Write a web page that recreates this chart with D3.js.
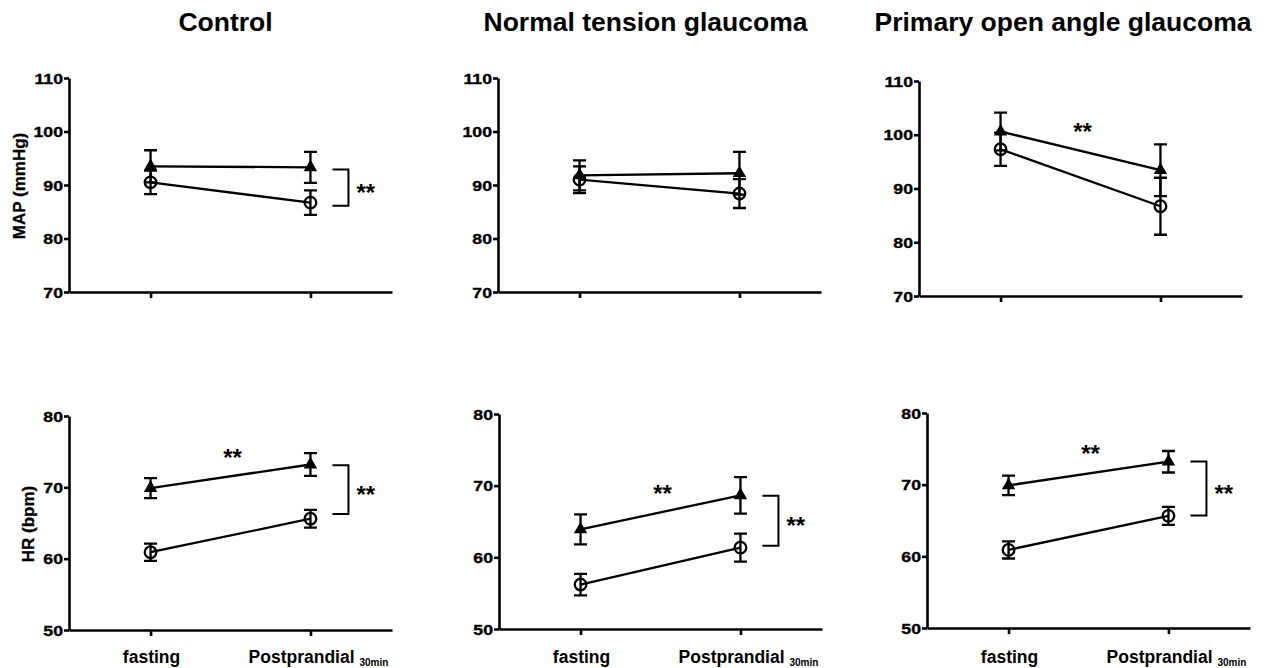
<!DOCTYPE html>
<html>
<head>
<meta charset="utf-8">
<script src="https://cdn.jsdelivr.net/npm/d3@7"></script>
<style>
  body { margin: 0; background: #fff; }
  text { font-family: "Liberation Sans", Arial, sans-serif; font-weight: bold; fill: #000; }
</style>
</head>
<body>
<script>
// values (mean and SEM), one row per group, [fasting, postprandial]
var groups = ["Control", "Normal tension glaucoma", "Primary open angle glaucoma"];
var times = ["fasting", "Postprandial"];
var mapTicks = [70, 80, 90, 100, 110];
var hrTicks = [50, 60, 70, 80];

// filled triangles
var mapTriMean = [[93.5, 93.3], [91.8, 92.2], [100.6, 93.4]];
var mapTriSem  = [[3.0, 2.9], [2.8, 4.0], [3.5, 4.8]];
var hrTriMean  = [[69.9, 73.2], [63.9, 68.65], [69.9, 73.2]];
var hrTriSem   = [[1.4, 1.6], [2.1, 2.55], [1.35, 1.5]];

// open circles
var mapCirMean = [[90.5, 86.7], [91.0, 88.4], [97.3, 86.7]];
var mapCirSem  = [[2.2, 2.3], [2.5, 2.7], [3.1, 5.3]];
var hrCirMean  = [[60.9, 65.6], [56.2, 61.35], [60.9, 65.65]];
var hrCirSem   = [[1.2, 1.25], [1.5, 1.95], [1.2, 1.25]];

// ** between time points (value where the stars sit), null = none
var mapStarsTime = [null, null, 101.5];
var hrStarsTime  = [74.9, 69.6, 75.1];
// ** bracket between groups at postprandial [top, bottom], null = none
var mapBracket = [[92.9, 86.1], null, null];
var hrBracket  = [[73.1, 66.25], [68.6, 61.6], [73.25, 65.7]];

var rows = [
  {label: "MAP (mmHg)", labelX: 25, labelY: 186, domain: [70, 110], ticks: mapTicks,
   triMean: mapTriMean, triSem: mapTriSem, cirMean: mapCirMean, cirSem: mapCirSem,
   stars: mapStarsTime, bracket: mapBracket,
   left: [69, 498, 919], top: [78, 78, 81], bottom: [292, 292, 296], catLabels: false},
  {label: "HR (bpm)", labelX: 33.5, labelY: 524, domain: [50, 80], ticks: hrTicks,
   triMean: hrTriMean, triSem: hrTriSem, cirMean: hrCirMean, cirSem: hrCirSem,
   stars: hrStarsTime, bracket: hrBracket,
   left: [69, 499, 927], top: [416, 414, 413], bottom: [630, 629, 628], catLabels: true}
];
var titleX = [225.5, 645.5, 1063];
var axisW = 323;

var svg = d3.select("body")
  .append("svg")
    .attr("width", 1281)
    .attr("height", 668);

// column titles
svg.selectAll(".title")
  .data(groups)
  .enter().append("text")
    .attr("class", "title")
    .attr("x", function(d, i) { return titleX[i]; })
    .attr("y", 31)
    .attr("text-anchor", "middle")
    .style("font-size", "26.5px")
    .text(function(d) { return d; });

var triangle = d3.symbol().type(d3.symbolTriangle).size(78);

rows.forEach(function(row) {

  // row y label
  svg.append("text")
      .attr("transform", "translate(" + row.labelX + "," + row.labelY + ") rotate(-90)")
      .attr("text-anchor", "middle")
      .style("font-size", "17px")
      .style("stroke", "#000")
      .style("stroke-width", 0.3)
      .text(row.label);

  groups.forEach(function(g, gi) {
    var left = row.left[gi];
    var x = d3.scalePoint().domain(times).range([left, left + axisW]).padding(0.51);
    var y = d3.scaleLinear().domain(row.domain).range([row.bottom[gi], row.top[gi]]);

    var panel = svg.append("g").attr("class", "panel");

    // axes
    var ya = panel.append("g")
        .attr("transform", "translate(" + left + ",0)")
        .call(d3.axisLeft(y).tickValues(row.ticks).tickSize(5).tickSizeOuter(0));
    ya.attr("font-size", null).attr("font-family", null);
    ya.selectAll("text")
        .attr("x", -6 / 1.22)
        .attr("dy", "0.36em")
        .attr("transform", "scale(1.22,1)")
        .style("font-size", "14.5px")
        .style("stroke", "#000")
        .style("stroke-width", 0.35);

    var xa = panel.append("g")
        .attr("transform", "translate(0," + row.bottom[gi] + ")")
        .call(d3.axisBottom(x).tickSize(6).tickSizeOuter(0).tickFormat(""));

    panel.selectAll(".domain, .tick line")
        .attr("stroke", "#000")
        .attr("stroke-width", 2.6);

    var line = d3.line()
        .x(function(d, i) { return x(times[i]); })
        .y(function(d) { return y(d); });

    var series = [
      {mean: row.triMean[gi], sem: row.triSem[gi], shape: "tri"},
      {mean: row.cirMean[gi], sem: row.cirSem[gi], shape: "cir"}
    ];

    series.forEach(function(s) {
      panel.append("path")
          .attr("d", line(s.mean))
          .attr("fill", "none")
          .attr("stroke", "#000")
          .attr("stroke-width", 2.3);

      // error bars
      s.mean.forEach(function(m, i) {
        var cx = x(times[i]), lo = y(m - s.sem[i]), hi = y(m + s.sem[i]);
        panel.append("path")
            .attr("d", "M" + cx + "," + lo + "V" + hi +
                       "M" + (cx - 6.5) + "," + lo + "H" + (cx + 6.5) +
                       "M" + (cx - 6.5) + "," + hi + "H" + (cx + 6.5))
            .attr("fill", "none")
            .attr("stroke", "#000")
            .attr("stroke-width", 2.3);
      });
    });

    // markers
    panel.selectAll(".tri")
      .data(row.triMean[gi])
      .enter().append("path")
        .attr("class", "tri")
        .attr("d", triangle)
        .attr("transform", function(d, i) { return "translate(" + x(times[i]) + "," + y(d) + ")"; })
        .attr("fill", "#000");

    panel.selectAll(".cir")
      .data(row.cirMean[gi])
      .enter().append("circle")
        .attr("class", "cir")
        .attr("cx", function(d, i) { return x(times[i]); })
        .attr("cy", function(d) { return y(d); })
        .attr("r", 5.8)
        .attr("fill", "none")
        .attr("stroke", "#000")
        .attr("stroke-width", 2.3);

    // ** between time points
    if (row.stars[gi] != null) {
      panel.append("text")
          .attr("x", (x(times[0]) + x(times[1])) / 2 + 2)
          .attr("y", y(row.stars[gi]))
          .attr("dy", "0.56em")
          .attr("text-anchor", "middle")
          .style("font-size", "24px")
          .text("**");
    }

    // ** bracket between groups
    var b = row.bracket[gi];
    if (b) {
      var bx0 = x(times[1]) + 22, bx1 = x(times[1]) + 38;
      panel.append("path")
          .attr("d", "M" + bx0 + "," + y(b[0]) + "H" + bx1 + "V" + y(b[1]) + "H" + bx0)
          .attr("fill", "none")
          .attr("stroke", "#000")
          .attr("stroke-width", 2);
      panel.append("text")
          .attr("x", bx1 + 8)
          .attr("y", (y(b[0]) + y(b[1])) / 2)
          .attr("dy", "0.56em")
          .style("font-size", "24px")
          .text("**");
    }

    // category labels on the bottom row
    if (row.catLabels) {
      panel.append("text")
          .attr("x", x(times[0]) + 1)
          .attr("y", 663)
          .attr("text-anchor", "middle")
          .style("font-size", "17.5px")
          .text(times[0]);
      var pp = panel.append("text")
          .attr("x", x(times[1]) + 8)
          .attr("y", 663)
          .attr("text-anchor", "middle")
          .style("font-size", "17.5px");
      pp.append("tspan").text(times[1] + " ");
      pp.append("tspan")
          .attr("dy", 2.5)
          .style("font-size", "10px")
          .text("30min");
    }
  });
});
</script>
</body>
</html>
